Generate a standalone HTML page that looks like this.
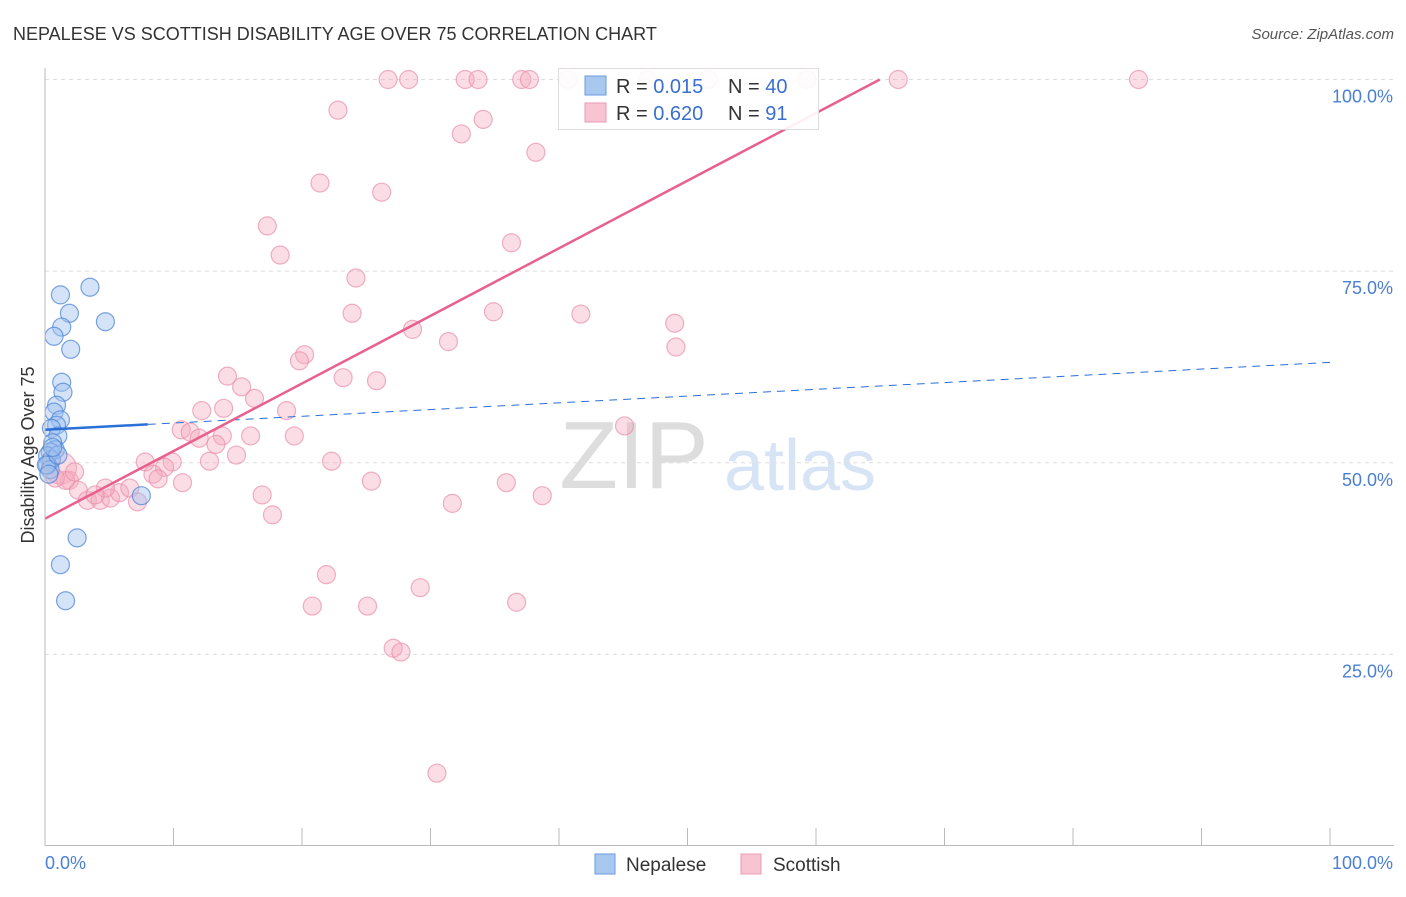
<!DOCTYPE html>
<html><head><meta charset="utf-8"><style>
body{margin:0;background:#fff;font-family:"Liberation Sans",sans-serif}
svg text{font-family:"Liberation Sans",sans-serif}
</style></head><body>
<svg id="c" width="1406" height="892">
<text x="13" y="40" font-size="18" fill="#333">NEPALESE VS SCOTTISH DISABILITY AGE OVER 75 CORRELATION CHART</text>
<text x="1394" y="39" font-size="15" fill="#555" text-anchor="end" font-style="italic">Source: ZipAtlas.com</text>
<text x="634" y="488" font-size="96" fill="#ddd" text-anchor="middle" font-family="Liberation Serif">ZIP</text>
<text x="800" y="490" font-size="72" fill="#d6e4f5" text-anchor="middle">atlas</text>
<g id="grid"></g><g id="marks"></g>
<line x1="45" y1="68" x2="45" y2="846" stroke="#bbb"/>
<line x1="45" y1="845.5" x2="1394" y2="845.5" stroke="#bbb"/>
<text x="34" y="455" font-size="18" fill="#333" text-anchor="middle" transform="rotate(-90 34 455)">Disability Age Over 75</text>
<text x="45" y="869" font-size="18" fill="#4a7fd4">0.0%</text>
<text x="1393" y="869" font-size="18" fill="#4a7fd4" text-anchor="end">100.0%</text>
<g>
<rect x="558.5" y="68.5" width="260" height="61" fill="#fff" fill-opacity="0.9" stroke="#ddd"/>
<rect x="585" y="76" width="21" height="19" fill="#a9c8f0" stroke="#6a9ae0"/>
<rect x="585" y="103" width="21" height="19" fill="#f8c4d2" stroke="#ec9ab2"/>
<text x="616" y="93" font-size="20" fill="#333">R = <tspan fill="#3a6fd0">0.015</tspan></text>
<text x="728" y="93" font-size="20" fill="#333">N = <tspan fill="#3a6fd0">40</tspan></text>
<text x="616" y="120" font-size="20" fill="#333">R = <tspan fill="#3a6fd0">0.620</tspan></text>
<text x="728" y="120" font-size="20" fill="#333">N = <tspan fill="#3a6fd0"> 91</tspan></text>
</g>
<g>
<rect x="595" y="854" width="20" height="20" fill="#a9c8f0" stroke="#6a9ae0"/>
<text x="626" y="871" font-size="19" fill="#333">Nepalese</text>
<rect x="741" y="854" width="20" height="20" fill="#f8c4d2" stroke="#ec9ab2"/>
<text x="773" y="871" font-size="19" fill="#333">Scottish</text>
</g>
</svg>
<script>
const yTicks=[25,50,75,100];
const yTickLabels=["25.0%","50.0%","75.0%","100.0%"];
const xTicks=[0,10,20,30,40,50,60,70,80,90,100];
const nepX=[3.5,1.2,1.9,4.7,1.3,0.7,2.0,1.3,1.4,0.9,0.7,1.2,0.9,0.5,1.0,0.6,0.8,0.4,0.2,0.5,0.2,0.4,0.1,1.0,7.5,2.5,1.2,1.6,0.3,0.6];
const nepY=[72.9,71.9,69.5,68.4,67.7,66.5,64.8,60.5,59.2,57.5,56.6,55.6,54.9,54.5,53.5,52.6,51.7,51.4,50.9,50.4,49.7,49.1,49.7,51.0,45.7,40.2,36.7,32.0,48.5,52.0];
const scoX=[22.8,26.7,28.3,32.7,33.7,37.1,37.7,40.7,46.9,51.6,59.3,66.4,85.1,32.4,34.1,38.2,21.4,26.2,17.3,18.3,36.3,24.2,23.9,28.6,34.9,41.7,49.0,49.1,31.4,20.2,19.8,14.2,15.3,23.2,25.8,16.3,12.2,13.9,18.8,10.6,11.3,13.8,12.0,16.0,19.4,13.3,14.9,12.8,7.8,9.9,22.3,9.3,8.4,8.8,10.7,25.4,35.9,16.9,38.7,31.7,17.7,45.1,21.9,20.8,25.1,29.2,36.7,27.1,27.7,30.5,1.2,1.9,2.6,3.3,4.3,5.1,5.8,6.6,7.2,4.7,3.9,1.6,0.8,2.3,0.4];
const scoY=[96.0,100,100,100,100,100,100,100,100,100,100,100,100,92.9,94.8,90.5,86.5,85.3,80.9,77.1,78.7,74.1,69.5,67.4,69.7,69.4,68.2,65.1,65.8,64.1,63.3,61.3,59.9,61.1,60.7,58.4,56.8,57.1,56.8,54.3,54.0,53.5,53.2,53.5,53.5,52.4,51.0,50.2,50.1,50.1,50.2,49.4,48.5,47.9,47.4,47.6,47.4,45.8,45.7,44.7,43.2,54.8,35.4,31.3,31.3,33.7,31.8,25.8,25.3,9.5,49.3,47.7,46.4,45.1,45.1,45.4,46.1,46.7,44.9,46.7,45.8,47.7,48.0,48.8,50.1];
const nepTrend=[54.3,0.088];
const scoTrend=[42.7,0.882];
const NS="http://www.w3.org/2000/svg";
const X=v=>45+v*12.85, Y=v=>846-v*7.665;
function mk(t,a,p){const e=document.createElementNS(NS,t);for(const k in a)e.setAttribute(k,a[k]);p.appendChild(e);return e;}
const g=document.getElementById('grid'), m=document.getElementById('marks');
yTicks.forEach((t,i)=>{
 const l=mk('line',{x1:45,x2:1394,y1:Y(t),y2:Y(t),stroke:'#ddd','stroke-dasharray':'4 4'},g);
 
 
 const tx=mk('text',{x:1393,y:Y(t)+23,'font-size':18,fill:'#4a7fd4','text-anchor':'end'},g);
 tx.textContent=yTickLabels[i];
 
 
});
xTicks.forEach(t=>{
 const l=mk('line',{x1:X(t),x2:X(t),y1:828,y2:846,stroke:'#bbb'},g);
 
 
});
scoX.forEach((v,i)=>{
 const big=(i===70);
 const c=mk('circle',{cx:X(v),cy:Y(scoY[i]),r:big?16:9,fill:'#f5a9bf','fill-opacity':0.4,stroke:'#ea8fab','stroke-opacity':0.7,'stroke-width':1.2},m);
 
 
});
nepX.forEach((v,i)=>{
 const c=mk('circle',{cx:X(v),cy:Y(nepY[i]),r:9,fill:'#9fc2ef','fill-opacity':0.45,stroke:'#4f86d8','stroke-opacity':0.75,'stroke-width':1.2},m);
 
 
});
const f1=x=>nepTrend[0]+nepTrend[1]*x, f2=x=>scoTrend[0]+scoTrend[1]*x;
let l=mk('line',{x1:X(0),y1:Y(f1(0)),x2:X(8),y2:Y(f1(8)),stroke:'#2a6fd6','stroke-width':2.5},m);


l=mk('line',{x1:X(8),y1:Y(f1(8)),x2:X(100),y2:Y(f1(100)),stroke:'#2a6fd6','stroke-width':1,'stroke-dasharray':'8 6'},m);


const xe=(100-scoTrend[0])/scoTrend[1];
l=mk('line',{x1:X(0),y1:Y(f2(0)),x2:X(xe),y2:Y(100),stroke:'#e8608e','stroke-width':2.5},m);


</script>
</body></html>
